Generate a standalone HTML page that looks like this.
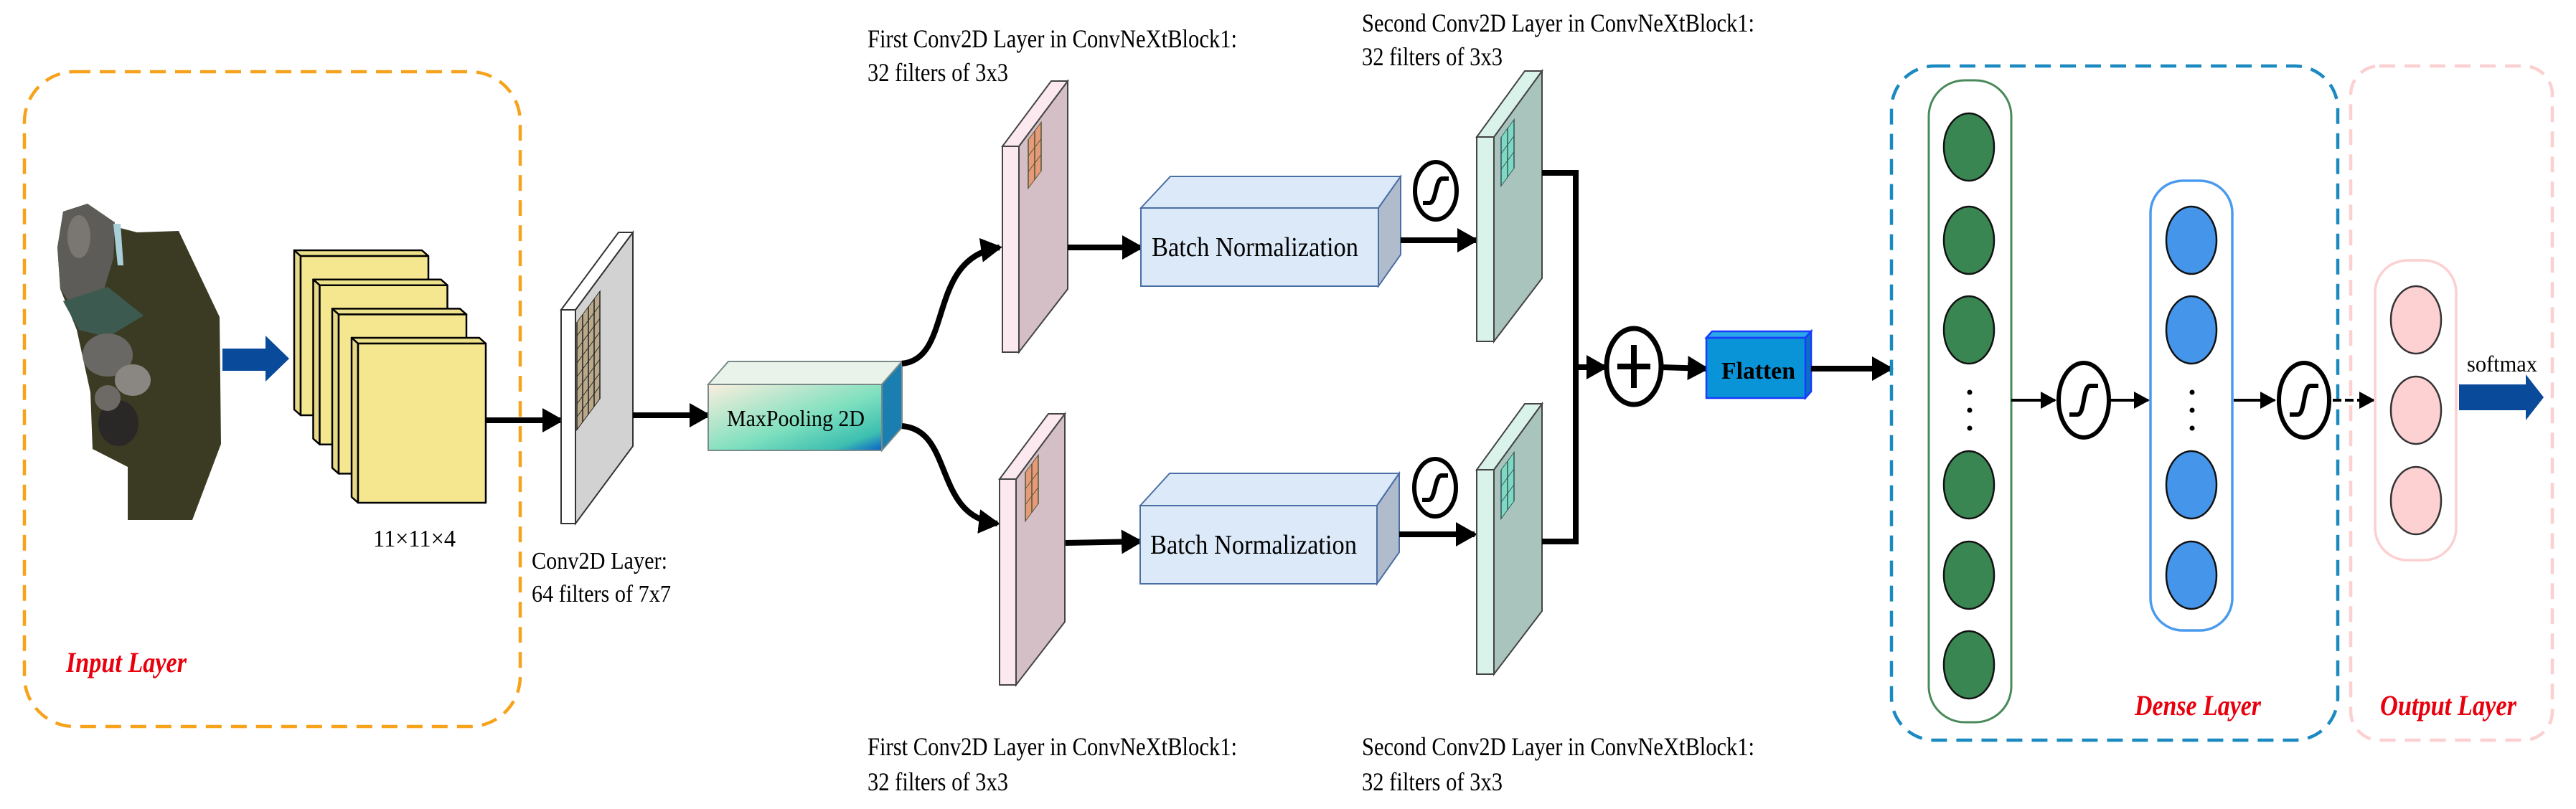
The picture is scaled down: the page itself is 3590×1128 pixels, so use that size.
<!DOCTYPE html>
<html><head><meta charset="utf-8"><style>html,body{margin:0;padding:0;background:#fff}svg{display:block}</style></head>
<body>
<svg width="3590" height="1128" viewBox="0 0 3590 1128" xmlns="http://www.w3.org/2000/svg" font-family="Liberation Serif, serif">
<defs>
<marker id="ah" markerUnits="userSpaceOnUse" markerWidth="30" markerHeight="34" refX="26" refY="17" orient="auto"><path d="M0,0 L30,17 L0,34 z" fill="#000"/></marker>
<marker id="as" markerUnits="userSpaceOnUse" markerWidth="22" markerHeight="24" refX="20" refY="12" orient="auto"><path d="M0,0 L22,12 L0,24 z" fill="#000"/></marker>
<linearGradient id="mp" x1="0" y1="0" x2="1" y2="1"><stop offset="0" stop-color="#fbeedd"/><stop offset="0.55" stop-color="#7fe0bf"/><stop offset="0.85" stop-color="#3dbfb0"/><stop offset="1" stop-color="#0a5fc8"/></linearGradient>
</defs>

<rect x="34" y="100" width="691" height="913" rx="70" fill="none" stroke="#f7a21b" stroke-width="4.5" stroke-dasharray="22 13"/>
<text x="92" y="937" font-size="40" font-weight="bold" font-style="italic" fill="#e8000d" textLength="168" lengthAdjust="spacingAndGlyphs">Input Layer</text>

<!-- satellite -->
<polygon points="88,295 122,284 164,317 191,324 249,322 306,442 308,619 268,725 178,725 178,651 129,626 126,547 107,460 84,403 80,345" fill="#3b3b24"/>
<polygon points="88,295 122,284 160,310 158,360 140,420 110,440 84,403 80,345" fill="#5e5c58"/>
<polygon points="88,420 150,400 200,440 150,470 110,460" fill="#3d5a50"/>
<ellipse cx="150" cy="495" rx="35" ry="30" fill="#6a6864"/>
<ellipse cx="185" cy="530" rx="25" ry="22" fill="#8a8782"/>
<ellipse cx="165" cy="590" rx="28" ry="32" fill="#2a2826"/>
<ellipse cx="150" cy="555" rx="18" ry="18" fill="#6d6a66"/>
<ellipse cx="110" cy="330" rx="16" ry="30" fill="#7a7772"/>
<polygon points="158,312 168,312 172,370 164,370" fill="#a9d0d8"/>

<polygon points="310,486 370,486 370,468 403,500 370,532 370,517 310,517" fill="#0a4a9a"/>

<g stroke="#000" stroke-width="2.5" stroke-linejoin="round">
<g><polygon points="419,357 410,349 588,349 597,357" fill="#ede08a"/><polygon points="419,357 410,349 410,571 419,579" fill="#e6d886"/><rect x="419" y="357" width="178" height="222" fill="#f5e78f"/></g>
<g transform="translate(26.5,40.7)"><polygon points="419,357 410,349 588,349 597,357" fill="#ede08a"/><polygon points="419,357 410,349 410,571 419,579" fill="#e6d886"/><rect x="419" y="357" width="178" height="222" fill="#f5e78f"/></g>
<g transform="translate(53,81.4)"><polygon points="419,357 410,349 588,349 597,357" fill="#ede08a"/><polygon points="419,357 410,349 410,571 419,579" fill="#e6d886"/><rect x="419" y="357" width="178" height="222" fill="#f5e78f"/></g>
<g transform="translate(80,122)"><polygon points="419,357 410,349 588,349 597,357" fill="#ede08a"/><polygon points="419,357 410,349 410,571 419,579" fill="#e6d886"/><rect x="419" y="357" width="178" height="222" fill="#f5e78f"/></g>
</g>
<text x="520" y="762" font-size="34" textLength="115" lengthAdjust="spacingAndGlyphs">11×11×4</text>

<line x1="677" y1="586" x2="782" y2="586" stroke="#000" stroke-width="8" marker-end="url(#ah)"/>

<g stroke="#333" stroke-width="2">
<polygon points="802,432 882,324 882,622 802,730" fill="#d2d2d2"/>
<polygon points="782,432 862,324 882,324 802,432" fill="#fff"/>
<rect x="782" y="432" width="20" height="298" fill="#fff"/>
</g>
<g transform="matrix(1,-1.35,0,1,802,432)" stroke="#222" stroke-width="1.5" fill="#b9a98a">
<rect x="2" y="20" width="32" height="150"/>
<path d="M10,20V170M18,20V170M26,20V170M2,39H34M2,58H34M2,77H34M2,96H34M2,115H34M2,134H34M2,152H34" fill="none"/>
</g>
<text x="741" y="793" font-size="34" textLength="189" lengthAdjust="spacingAndGlyphs">Conv2D Layer:</text>
<text x="741" y="839" font-size="34" textLength="194" lengthAdjust="spacingAndGlyphs">64 filters of 7x7</text>

<line x1="882" y1="579" x2="987" y2="579" stroke="#000" stroke-width="8" marker-end="url(#ah)"/>

<g stroke="#7a8a8a" stroke-width="2">
<polygon points="987,536 1015,504 1257,504 1229,536" fill="#e9f3ea"/>
<polygon points="1229,536 1257,504 1257,596 1229,628" fill="#1a7fb0"/>
<rect x="987" y="536" width="242" height="92" fill="url(#mp)"/>
</g>
<text x="1013" y="594" font-size="32" textLength="192" lengthAdjust="spacingAndGlyphs">MaxPooling 2D</text>

<path d="M1257,507 C1330,500 1290,360 1393,345" fill="none" stroke="#000" stroke-width="8" marker-end="url(#ah)"/>
<path d="M1257,594 C1330,600 1300,720 1390,730" fill="none" stroke="#000" stroke-width="8" marker-end="url(#ah)"/>

<text x="1209" y="66" font-size="36" textLength="515" lengthAdjust="spacingAndGlyphs">First Conv2D Layer in ConvNeXtBlock1:</text>
<text x="1209" y="113" font-size="36" textLength="196" lengthAdjust="spacingAndGlyphs">32 filters of 3x3</text>
<text x="1898" y="44" font-size="36" textLength="547" lengthAdjust="spacingAndGlyphs">Second Conv2D Layer in ConvNeXtBlock1:</text>
<text x="1898" y="91" font-size="36" textLength="196" lengthAdjust="spacingAndGlyphs">32 filters of 3x3</text>
<text x="1209" y="1053" font-size="36" textLength="515" lengthAdjust="spacingAndGlyphs">First Conv2D Layer in ConvNeXtBlock1:</text>
<text x="1209" y="1102" font-size="36" textLength="196" lengthAdjust="spacingAndGlyphs">32 filters of 3x3</text>
<text x="1898" y="1053" font-size="36" textLength="547" lengthAdjust="spacingAndGlyphs">Second Conv2D Layer in ConvNeXtBlock1:</text>
<text x="1898" y="1102" font-size="36" textLength="196" lengthAdjust="spacingAndGlyphs">32 filters of 3x3</text>

<g>
<g stroke="#444" stroke-width="2">
<polygon points="1420,204 1488,113 1488,403 1420,491" fill="#d4bfc6"/>
<polygon points="1397,204 1465,113 1488,113 1420,204" fill="#fbe9ef"/>
<rect x="1397" y="204" width="23" height="287" fill="#fbe9ef"/>
</g>
<g transform="matrix(1,-1.34,0,1,1420,204)" stroke="#553" stroke-width="1.5" fill="#e59a7a">
<rect x="13" y="8" width="18" height="68"/><path d="M22,8V76M13,31H31M13,53H31" fill="none"/>
</g>
</g>
<g transform="translate(-4,464)">
<g stroke="#444" stroke-width="2">
<polygon points="1420,204 1488,113 1488,403 1420,491" fill="#d4bfc6"/>
<polygon points="1397,204 1465,113 1488,113 1420,204" fill="#fbe9ef"/>
<rect x="1397" y="204" width="23" height="287" fill="#fbe9ef"/>
</g>
<g transform="matrix(1,-1.34,0,1,1420,204)" stroke="#553" stroke-width="1.5" fill="#e59a7a">
<rect x="13" y="8" width="18" height="68"/><path d="M22,8V76M13,31H31M13,53H31" fill="none"/>
</g>
</g>

<line x1="1488" y1="345" x2="1590" y2="345" stroke="#000" stroke-width="8" marker-end="url(#ah)"/>
<line x1="1485" y1="757" x2="1589" y2="755" stroke="#000" stroke-width="8" marker-end="url(#ah)"/>

<g stroke="#4a6fa5" stroke-width="2">
<polygon points="1590,290 1631,246 1952,246 1921,290" fill="#dce9f8"/>
<polygon points="1921,290 1952,246 1952,355 1921,399" fill="#b0bccc"/>
<rect x="1590" y="290" width="331" height="109" fill="#dce9f8"/>
<polygon points="1589,705 1630,660 1950,660 1919,705" fill="#dce9f8"/>
<polygon points="1919,705 1950,660 1950,770 1919,814" fill="#b0bccc"/>
<rect x="1589" y="705" width="330" height="109" fill="#dce9f8"/>
</g>
<text x="1605" y="357" font-size="38" textLength="288" lengthAdjust="spacingAndGlyphs">Batch Normalization</text>
<text x="1603" y="772" font-size="38" textLength="288" lengthAdjust="spacingAndGlyphs">Batch Normalization</text>

<g fill="#fff" stroke="#000" stroke-width="6">
<ellipse cx="2001" cy="266" rx="29" ry="40"/>
<ellipse cx="2000" cy="680" rx="29" ry="40"/>
</g>
<g fill="none" stroke="#000" stroke-width="6">
<path d="M1983,283 L1992,283 C2002,283 2000,249 2010,249 L2019,249"/>
<path d="M1982,697 L1991,697 C2001,697 1999,663 2009,663 L2018,663"/>
</g>

<line x1="1952" y1="335" x2="2057" y2="335" stroke="#000" stroke-width="8" marker-end="url(#ah)"/>
<line x1="1950" y1="745" x2="2055" y2="745" stroke="#000" stroke-width="8" marker-end="url(#ah)"/>

<g>
<g stroke="#444" stroke-width="2">
<polygon points="2082,191 2149,99 2149,388 2082,476" fill="#a8c4bc"/>
<polygon points="2058,191 2125,99 2149,99 2082,191" fill="#d9f2ea"/>
<rect x="2058" y="191" width="24" height="285" fill="#d9f2ea"/>
</g>
<g transform="matrix(1,-1.37,0,1,2082,191)" stroke="#355" stroke-width="1.5" fill="#7fd8c4">
<rect x="10" y="14" width="18" height="68"/><path d="M19,14V82M10,37H28M10,59H28" fill="none"/>
</g>
</g>
<g transform="translate(0,464)">
<g stroke="#444" stroke-width="2">
<polygon points="2082,191 2149,99 2149,388 2082,476" fill="#a8c4bc"/>
<polygon points="2058,191 2125,99 2149,99 2082,191" fill="#d9f2ea"/>
<rect x="2058" y="191" width="24" height="285" fill="#d9f2ea"/>
</g>
<g transform="matrix(1,-1.37,0,1,2082,191)" stroke="#355" stroke-width="1.5" fill="#7fd8c4">
<rect x="10" y="14" width="18" height="68"/><path d="M19,14V82M10,37H28M10,59H28" fill="none"/>
</g>
</g>

<path d="M2149,241 H2196 V755 H2149" fill="none" stroke="#000" stroke-width="8"/>
<line x1="2196" y1="512" x2="2237" y2="512" stroke="#000" stroke-width="8" marker-end="url(#ah)"/>
<ellipse cx="2277" cy="511" rx="38" ry="53" fill="#fff" stroke="#000" stroke-width="7"/>
<path d="M2277,481 V541 M2254,511 H2300" stroke="#000" stroke-width="8"/>
<line x1="2315" y1="512" x2="2378" y2="514" stroke="#000" stroke-width="8" marker-end="url(#ah)"/>

<g stroke="#1a3cff" stroke-width="2.5">
<polygon points="2378,471 2386,462 2524,462 2516,471" fill="#2aa8e8"/>
<polygon points="2516,471 2524,462 2524,546 2516,555" fill="#0a70c0"/>
<rect x="2378" y="471" width="138" height="84" fill="#0a94d8"/>
</g>
<text x="2399" y="528" font-size="34" font-weight="bold" textLength="103" lengthAdjust="spacingAndGlyphs">Flatten</text>
<line x1="2524" y1="514" x2="2635" y2="514" stroke="#000" stroke-width="8" marker-end="url(#ah)"/>

<rect x="2636" y="92" width="622" height="940" rx="60" fill="none" stroke="#1a8ac0" stroke-width="4.5" stroke-dasharray="22 13"/>
<rect x="2688" y="112" width="115" height="895" rx="50" fill="#fff" stroke="#4a8a5a" stroke-width="3"/>
<g fill="#3a8653" stroke="#111" stroke-width="2.5">
<ellipse cx="2744" cy="205" rx="35" ry="47"/><ellipse cx="2744" cy="335" rx="35" ry="47"/><ellipse cx="2744" cy="460" rx="35" ry="47"/>
<ellipse cx="2744" cy="676" rx="35" ry="47"/><ellipse cx="2744" cy="802" rx="35" ry="47"/><ellipse cx="2744" cy="927" rx="35" ry="47"/>
</g>
<g fill="#000"><circle cx="2745" cy="547" r="3.5"/><circle cx="2745" cy="572" r="3.5"/><circle cx="2745" cy="597" r="3.5"/></g>

<rect x="2997" y="252" width="114" height="627" rx="45" fill="#fff" stroke="#4a9aee" stroke-width="3.5"/>
<g fill="#4596ea" stroke="#111" stroke-width="2.5">
<ellipse cx="3054" cy="335" rx="35" ry="47"/><ellipse cx="3054" cy="460" rx="35" ry="47"/>
<ellipse cx="3054" cy="676" rx="35" ry="47"/><ellipse cx="3054" cy="802" rx="35" ry="47"/>
</g>
<g fill="#000"><circle cx="3055" cy="547" r="3.5"/><circle cx="3055" cy="572" r="3.5"/><circle cx="3055" cy="597" r="3.5"/></g>

<line x1="2803" y1="558" x2="2864" y2="558" stroke="#000" stroke-width="4" marker-end="url(#as)"/>
<line x1="2942" y1="558" x2="2994" y2="558" stroke="#000" stroke-width="4" marker-end="url(#as)"/>
<line x1="3113" y1="558" x2="3170" y2="558" stroke="#000" stroke-width="4" marker-end="url(#as)"/>
<line x1="3251" y1="558" x2="3308" y2="558" stroke="#000" stroke-width="4" stroke-dasharray="12 5" marker-end="url(#as)"/>
<g fill="#fff" stroke="#000" stroke-width="6">
<ellipse cx="2904" cy="558" rx="35" ry="52"/>
<ellipse cx="3211" cy="558" rx="35" ry="52"/>
</g>
<g fill="none" stroke="#000" stroke-width="6">
<path d="M2884,578 L2895,578 C2906,578 2902,538 2913,538 L2924,538"/>
<path d="M3191,578 L3202,578 C3213,578 3209,538 3220,538 L3231,538"/>
</g>
<text x="2975" y="997" font-size="40" font-weight="bold" font-style="italic" fill="#e8000d" textLength="176" lengthAdjust="spacingAndGlyphs">Dense Layer</text>

<rect x="3276" y="92" width="281" height="940" rx="40" fill="none" stroke="#fcd0d0" stroke-width="4.5" stroke-dasharray="22 13"/>
<rect x="3310" y="363" width="113" height="418" rx="45" fill="#fff" stroke="#fcd0d0" stroke-width="3.5"/>
<g fill="#fdd0d2" stroke="#333" stroke-width="2.5">
<ellipse cx="3367" cy="446" rx="35" ry="47"/><ellipse cx="3367" cy="572" rx="35" ry="47"/><ellipse cx="3367" cy="698" rx="35" ry="47"/>
</g>
<text x="3438" y="518" font-size="32" textLength="98" lengthAdjust="spacingAndGlyphs">softmax</text>
<polygon points="3427,536 3520,536 3520,522 3545,554 3520,586 3520,572 3427,572" fill="#0a4a9a"/>
<text x="3317" y="997" font-size="40" font-weight="bold" font-style="italic" fill="#e8000d" textLength="190" lengthAdjust="spacingAndGlyphs">Output Layer</text>
</svg>
</body></html>
